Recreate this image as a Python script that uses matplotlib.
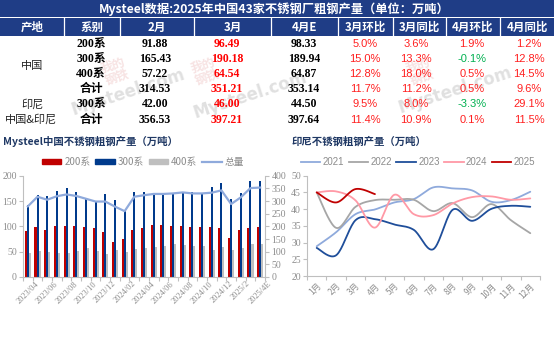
import numpy as np
import matplotlib
matplotlib.use("Agg")
import matplotlib.pyplot as plt
from matplotlib.patches import Rectangle, Patch
from matplotlib.lines import Line2D

plt.rcParams['font.family'] = ['Noto Sans CJK SC', 'DejaVu Sans']

# ---------------- data ----------------
table_title = "Mysteel数据:2025年中国43家不锈钢厂粗钢产量（单位：万吨）"
table_header = ["产地", "系别", "2月", "3月", "4月E", "3月环比", "3月同比", "4月环比", "4月同比"]
row_series = ["200系", "300系", "400系", "合计", "300系", "合计"]
col_feb = ["91.88", "165.43", "57.22", "314.53", "42.00", "356.53"]
col_mar = ["96.49", "190.18", "64.54", "351.21", "46.00", "397.21"]
col_apr = ["98.33", "189.94", "64.87", "353.14", "44.50", "397.64"]
col_mar_mom = ["5.0%", "15.0%", "12.8%", "11.7%", "9.5%", "11.4%"]
col_mar_yoy = ["3.6%", "13.3%", "18.0%", "11.2%", "8.0%", "10.9%"]
col_apr_mom = ["1.9%", "-0.1%", "0.5%", "0.5%", "-3.3%", "0.1%"]
col_apr_yoy = ["1.2%", "12.8%", "14.5%", "9.6%", "29.1%", "11.5%"]

months = ["2023/04", "2023/05", "2023/06", "2023/07", "2023/08", "2023/09", "2023/10",
          "2023/11", "2023/12", "2024/01", "2024/02", "2024/03", "2024/04", "2024/05",
          "2024/06", "2024/07", "2024/08", "2024/09", "2024/10", "2024/11", "2024/12",
          "2025/1", "2025/2", "2025/3", "2025/4E"]
shown_month_labels = ["2023/04", "2023/06", "2023/08", "2023/10", "2023/12", "2024/02",
                      "2024/04", "2024/06", "2024/08", "2024/10", "2024/12", "2025/2", "2025/4E"]
s200 = [90, 98, 93, 100, 101, 100, 98, 97, 88, 69, 75, 93, 96, 103, 102, 100, 100, 99,
        98, 99, 96, 77.5, 91.88, 96.49, 98.33]
s300 = [142, 161, 160, 170, 175, 167, 155, 149, 164, 153, 132, 167, 168, 164, 164, 164,
        166, 167, 166, 178, 185, 154, 165.43, 190.18, 189.94]
s400 = [48, 51.5, 50, 48, 48, 51.5, 57, 51.5, 46, 53, 48.5, 54.5, 57, 60, 62, 66, 64, 62,
        62, 53, 60, 53, 57.22, 64.54, 64.87]
total = [279, 317, 305, 319, 326, 320, 309, 298, 298, 278, 260, 317, 323, 328, 328, 330,
         334, 330, 330, 333, 342, 288, 314.53, 351.21, 353.14]

indo_months = ["1月", "2月", "3月", "4月", "5月", "6月", "7月", "8月", "9月", "10月", "11月", "12月"]
indo_2021 = [28.9, 33.1, 38.5, 39.9, 42.0, 43.0, 46.5, 46.2, 45.6, 42.2, 42.7, 45.2]
indo_2022 = [45.0, 34.4, 40.7, 42.7, 42.8, 42.8, 39.4, 41.8, 37.6, 41.5, 36.7, 32.8]
indo_2023 = [28.4, 26.2, 36.7, 37.0, 35.4, 33.8, 28.0, 39.8, 36.5, 40.1, 41.0, 40.7]
indo_2024 = [45.0, 45.3, 42.6, 34.47, 44.3, 38.5, 38.2, 41.7, 43.6, 43.8, 42.8, 43.2]
indo_2025 = [45.0, 42.0, 46.0, 44.5]

# ---------------- helpers ----------------
W, H = 554, 339
fig = plt.figure(figsize=(W / 100, H / 100), dpi=100)
fig.patch.set_facecolor('white')

def fx(px):
    return px / W

def fy(py):
    return 1 - py / H

def smooth(xs, ys, n=20):
    pts = np.column_stack([xs, ys]).astype(float)
    p = np.vstack([pts[0], pts, pts[-1]])
    out = []
    t = np.linspace(0, 1, n, endpoint=False)[:, None]
    for i in range(1, len(p) - 2):
        p0, p1, p2, p3 = p[i - 1], p[i], p[i + 1], p[i + 2]
        seg = 0.5 * ((2 * p1) + (-p0 + p2) * t + (2 * p0 - 5 * p1 + 4 * p2 - p3) * t ** 2
                     + (-p0 + 3 * p1 - 3 * p2 + p3) * t ** 3)
        out.append(seg)
    out.append(pts[-1][None, :])
    a = np.vstack(out)
    return a[:, 0], a[:, 1]

NAVY = '#1F3D86'
GRAYTXT = '#8C8C8C'
SPINE = '#BFBFBF'
SERIF = ['Liberation Serif', 'Noto Sans CJK SC']

# ---------------- table ----------------
axT = fig.add_axes([0, 0, 1, 1])
axT.set_xlim(0, W)
axT.set_ylim(H, 0)
axT.axis('off')

axT.add_patch(Rectangle((0, 0), W, 17.3, color=NAVY, lw=0))
axT.add_patch(Rectangle((0, 18.2), W, 17.6, color=NAVY, lw=0))
axT.text(274, 8.8, table_title, color='white', fontsize=8.8, weight='bold',
         ha='center', va='center')
seps = [63.8, 120.4, 194, 271, 338, 393, 445.6, 499.5]
for s in seps:
    axT.plot([s, s], [18.2, 35.8], color='white', lw=0.9)
hdr_cx = [32, 92, 157, 232.5, 304.5, 365.5, 419.3, 472.5, 527]
for cx, h in zip(hdr_cx, table_header):
    axT.text(cx, 27.2, h, color='white', fontsize=8.3, weight='bold', ha='center', va='center')

# watermarks
for (wx, wy) in [(128, 92), (250, 95), (455, 90)]:
    axT.text(wx, wy, "Mysteel.com", color='#9A9A9A', alpha=0.3, fontsize=12,
             weight='bold', rotation=18, ha='center', va='center', family='DejaVu Sans')
for (lx, ly) in [(115, 72), (205, 72), (420, 72)]:
    axT.text(lx, ly, "我的\n钢铁", color='#C84040', alpha=0.15, fontsize=9,
             weight='bold', rotation=18, ha='center', va='center', linespacing=0.9)

row_y = [36 + 15.2 * (i + 0.5) for i in range(6)]
axT.text(32, (row_y[0] + row_y[3]) / 2, "中国", fontsize=8, ha='center', va='center', color='#222222')
axT.text(32, row_y[4], "印尼", fontsize=8, ha='center', va='center', color='#222222')
axT.text(31, row_y[5], "中国&印尼", fontsize=8, ha='center', va='center', color='#222222')

def pct_color(s):
    return '#00B050' if s.startswith('-') else '#FF2020'

for i, y in enumerate(row_y):
    axT.text(91, y, row_series[i], fontsize=8.5, weight='bold', ha='center', va='center',
             family=SERIF, color='black')
    axT.text(155, y, col_feb[i], fontsize=8.5, weight='bold', ha='center', va='center',
             family=SERIF, color='black')
    axT.text(227, y, col_mar[i], fontsize=8.5, weight='bold', ha='center', va='center',
             family=SERIF, color='#FF0000')
    axT.text(304, y, col_apr[i], fontsize=8.5, weight='bold', ha='center', va='center',
             family=SERIF, color='black')
    for cx, col in zip([365, 416, 472, 529], [col_mar_mom, col_mar_yoy, col_apr_mom, col_apr_yoy]):
        axT.text(cx, y, col[i], fontsize=8, ha='center', va='center',
                 family=['Liberation Sans'], color=pct_color(col[i]))

# ---------------- left chart ----------------
fig.text(fx(3), fy(141.5), "Mysteel中国不锈钢粗钢产量（万吨）", color='#1F3864',
         fontsize=7.5, weight='bold', ha='left', va='center')

axL = fig.add_axes([fx(23), fy(277), fx(265 - 23), (277 - 175.7) / H])
axL.set_facecolor('none')
x = np.arange(len(months))
w = 0.21
axL.bar(x - w, s200, w, color='#C00000', lw=0)
axL.bar(x, s300, w, color='#003A8C', lw=0)
axL.bar(x + w, s400, w, color='#BFBFBF', lw=0)
axL.set_xlim(-0.5, len(months) - 0.5)
axL.set_ylim(0, 200)
axL.set_yticks(np.arange(0, 201, 50))
axL2 = axL.twinx()
axL2.plot(x, total, color='#8FAADC', lw=1.6)
axL2.set_ylim(0, 400)
axL2.set_yticks(np.arange(0, 401, 50))

for a in (axL, axL2):
    for sp in a.spines.values():
        sp.set_color(SPINE)
        sp.set_linewidth(0.8)
    a.spines['top'].set_visible(False)
axL.spines['right'].set_visible(False)
axL2.spines['left'].set_visible(False)
axL2.spines['bottom'].set_visible(False)

axL.tick_params(axis='y', colors=SPINE, labelcolor=GRAYTXT, labelsize=7, length=3, width=0.8, pad=1.5)
axL2.tick_params(axis='y', colors=SPINE, labelcolor=GRAYTXT, labelsize=7, length=3, width=0.8, pad=1.5)
for lab in axL.get_yticklabels() + axL2.get_yticklabels():
    lab.set_family(SERIF)

idx = [months.index(m) for m in shown_month_labels]
axL.set_xticks(idx)
axL.set_xticklabels(shown_month_labels, rotation=45, ha='center', va='top', family=SERIF,
                    fontsize=6, color=GRAYTXT)
axL.set_xticks(np.arange(-0.5, len(months), 1), minor=True)
axL.tick_params(axis='x', which='major', length=0, pad=2)
axL.tick_params(axis='x', which='minor', length=3, color=SPINE, width=0.8)

handlesL = [Patch(color='#C00000'), Patch(color='#003A8C'), Patch(color='#BFBFBF'),
            Line2D([], [], color='#8FAADC', lw=1.6)]
fig.legend(handlesL, ["200系", "300系", "400系", "总量"], loc='center',
           bbox_to_anchor=(fx(143), fy(162)), ncol=4, frameon=False, fontsize=7,
           handlelength=2.0, handleheight=0.5, handletextpad=0.3, columnspacing=0.5,
           labelcolor=GRAYTXT)

# ---------------- right chart ----------------
fig.text(fx(292), fy(141.5), "印尼不锈钢粗钢产量（万吨）", color='#1F3864',
         fontsize=7.5, weight='bold', ha='left', va='center')

axR = fig.add_axes([fx(307), fy(276), fx(540 - 307), (276 - 175.7) / H])
axR.set_facecolor('none')
xm = np.arange(1, 13)
series = [(indo_2021, '#8FAADC', '2021'), (indo_2022, '#A6A6A6', '2022'),
          (indo_2023, '#1F4E9A', '2023'), (indo_2024, '#FF99A6', '2024'),
          (indo_2025, '#C00000', '2025')]
for vals, c, lab in series:
    sx, sy = smooth(xm[:len(vals)], vals)
    axR.plot(sx, sy, color=c, lw=1.3, label=lab, solid_capstyle='round')
axR.set_xlim(0.5, 12.5)
axR.set_ylim(20, 50)
axR.set_yticks(np.arange(20, 51, 5))
for k in ('top', 'right'):
    axR.spines[k].set_visible(False)
for k in ('left', 'bottom'):
    axR.spines[k].set_color(SPINE)
    axR.spines[k].set_linewidth(0.8)
axR.tick_params(axis='y', colors=SPINE, labelcolor=GRAYTXT, labelsize=7, length=3, width=0.8, pad=1.5)
for lab in axR.get_yticklabels():
    lab.set_family(SERIF)
axR.set_xticks(xm)
axR.set_xticklabels(indo_months, rotation=45, ha='right', rotation_mode='anchor',
                    fontsize=6, color=GRAYTXT)
axR.set_xticks(np.arange(0.5, 12.6, 1), minor=True)
axR.tick_params(axis='x', which='major', length=0, pad=4)
axR.tick_params(axis='x', which='minor', length=3, color=SPINE, width=0.8)

handlesR = [Line2D([], [], color=c, lw=1.3) for _, c, _ in series]
fig.legend(handlesR, [s[2] for s in series], loc='center',
           bbox_to_anchor=(fx(418), fy(162)), ncol=5, frameon=False,
           handlelength=2.0, handletextpad=0.25, columnspacing=0.45,
           labelcolor=GRAYTXT, prop={'family': ['Liberation Sans'], 'size': 7})

fig.savefig("out.png", dpi=100, facecolor='white')
